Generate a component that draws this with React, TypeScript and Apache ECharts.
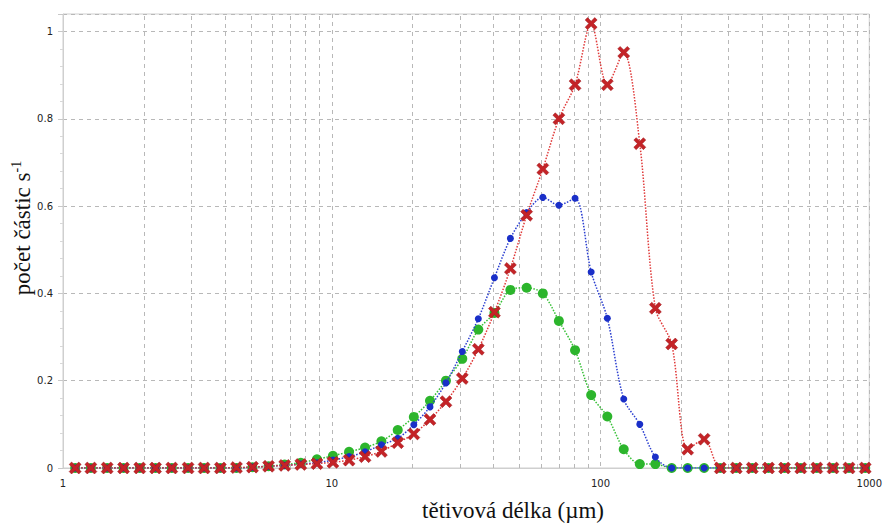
import React, { useEffect, useRef } from "react";
import * as echarts from "echarts";

// chord length channels (µm)
const chordLength = [1.11, 1.27, 1.46, 1.68, 1.93, 2.21, 2.54, 2.92, 3.35, 3.85, 4.42, 5.07, 5.82, 6.68, 7.67, 8.81, 10.1, 11.6, 13.3, 15.3, 17.6, 20.2, 23.2, 26.6, 30.6, 35.1, 40.3, 46.2, 53.1, 61.0, 70.0, 80.4, 92.3, 106, 122, 140, 160, 184, 211, 243, 279, 320, 367, 422, 484, 556, 638, 733, 841, 966];

const greenCounts = [0, 0, 0, 0, 0, 0, 0, 0, 0, 0, 0, 0.002, 0.004, 0.008, 0.012, 0.02, 0.028, 0.037, 0.047, 0.061, 0.087, 0.117, 0.154, 0.2, 0.25, 0.317, 0.355, 0.408, 0.413, 0.4, 0.337, 0.27, 0.167, 0.118, 0.043, 0.009, 0.009, 0, 0, 0, 0, 0, 0, 0, 0, 0, 0, 0, 0, 0];

const blueCounts = [0, 0, 0, 0, 0, 0, 0, 0, 0, 0, 0, 0.002, 0.004, 0.006, 0.009, 0.012, 0.018, 0.026, 0.037, 0.053, 0.068, 0.099, 0.14, 0.195, 0.267, 0.342, 0.436, 0.526, 0.585, 0.62, 0.602, 0.618, 0.449, 0.343, 0.158, 0.1, 0.025, 0, 0, 0, 0, 0, 0, 0, 0, 0, 0, 0, 0, 0];

const redCounts = [0, 0, 0, 0, 0, 0, 0, 0, 0, 0, 0.001, 0.002, 0.004, 0.006, 0.008, 0.01, 0.013, 0.018, 0.026, 0.038, 0.058, 0.078, 0.111, 0.152, 0.205, 0.272, 0.357, 0.457, 0.579, 0.685, 0.8, 0.878, 1.018, 0.878, 0.952, 0.743, 0.366, 0.284, 0.043, 0.066, 0, 0, 0, 0, 0, 0, 0, 0, 0, 0];

const minorGridX = [2, 3, 4, 5, 6, 7, 8, 9, 20, 30, 40, 50, 60, 70, 80, 90, 200, 300, 400, 500, 600, 700, 800, 900];

const xTitle = "tětivová délka (µm)";
const yTitleMain = "počet částic s";
const yTitleSup = "-1";

const crossPath =
  "path://M2,0 L5,3 L8,0 L10,2 L7,5 L10,8 L8,10 L5,7 L2,10 L0,8 L3,5 L0,2 Z";

export default function App() {
  const ref = useRef<HTMLDivElement>(null);
  useEffect(() => {
    if (!ref.current) return;
    document.body.style.margin = "0";
    const chart = echarts.init(ref.current, null, { renderer: "svg" });
    const pairs = (ys: number[]) => chordLength.map((x, i) => [x, ys[i]]);
    const gridLine = { color: "#b8b8b8", type: [4, 4] as any, width: 1 };
    chart.setOption({
      animation: false,
      backgroundColor: "#ffffff",
      grid: {
        left: 63,
        right: 14,
        top: 14,
        bottom: 57,
        show: true,
        borderColor: "#cfcfcf",
        borderWidth: 1,
      },
      xAxis: {
        type: "log",
        logBase: 10,
        min: 1,
        max: 1000,
        axisLine: { show: true, lineStyle: { color: "#cfcfcf" } },
        axisTick: { show: false },
        axisLabel: {
          color: "#222",
          fontFamily: "DejaVu Sans",
          fontSize: 10,
          margin: 10,
          formatter: (v: number) => String(Math.round(v)),
        },
        splitLine: { show: true, lineStyle: gridLine },
      },
      yAxis: {
        type: "value",
        min: 0,
        max: 1.04,
        interval: 0.2,
        axisLine: { show: true, lineStyle: { color: "#cfcfcf" } },
        axisTick: { show: true, length: 5, lineStyle: { color: "#c8c8c8" } },
        minorTick: {
          show: true,
          splitNumber: 5,
          length: 3,
          lineStyle: { color: "#d8d8d8" },
        },
        axisLabel: {
          color: "#222",
          fontFamily: "DejaVu Sans",
          fontSize: 10,
          margin: 10,
          showMaxLabel: false,
          formatter: (v: number) => String(Math.round(v * 10) / 10),
        },
        splitLine: { show: true, lineStyle: gridLine },
      },
      graphic: [
        {
          type: "text",
          x: 513,
          y: 510,
          style: {
            text: xTitle,
            font: '23px "Liberation Serif"',
            fill: "#111",
            align: "center",
            verticalAlign: "middle",
          },
        },
        {
          type: "text",
          x: 22,
          y: 228,
          rotation: Math.PI / 2,
          style: {
            text: "{a|" + yTitleMain + "}{b|" + yTitleSup + "}",
            align: "center",
            verticalAlign: "middle",
            fill: "#111",
            rich: {
              a: { fontFamily: "Liberation Serif", fontSize: 23, fill: "#111" },
              b: {
                fontFamily: "Liberation Serif",
                fontSize: 14,
                fill: "#111",
                padding: [0, 0, 11, 0],
              },
            },
          },
        },
      ],
      series: [
        {
          type: "line",
          name: "green",
          data: pairs(greenCounts),
          smooth: 0.3,
          symbol: "circle",
          symbolSize: 10,
          itemStyle: { color: "#2cb52c" },
          lineStyle: { color: "#36c036", width: 1.5, type: "dotted" },
          z: 2,
          markLine: {
            silent: true,
            symbol: "none",
            z: 1,
            label: { show: false },
            lineStyle: gridLine,
            data: minorGridX.map((v) => ({ xAxis: v })),
          },
        },
        {
          type: "line",
          name: "blue",
          data: pairs(blueCounts),
          smooth: 0.3,
          symbol: "circle",
          symbolSize: 7,
          itemStyle: { color: "#1a2fc8" },
          lineStyle: { color: "#2a3ed0", width: 1.5, type: "dotted" },
          z: 3,
        },
        {
          type: "line",
          name: "red",
          data: pairs(redCounts),
          smooth: 0.3,
          symbol: crossPath,
          symbolSize: 12,
          itemStyle: { color: "#c42327", borderColor: "#9a1518", borderWidth: 0.5 },
          lineStyle: { color: "#e03a3a", width: 1.5, type: "dotted" },
          z: 4,
        },
      ],
    });
    return () => chart.dispose();
  }, []);
  return <div ref={ref} style={{ width: 885, height: 525 }} />;
}
